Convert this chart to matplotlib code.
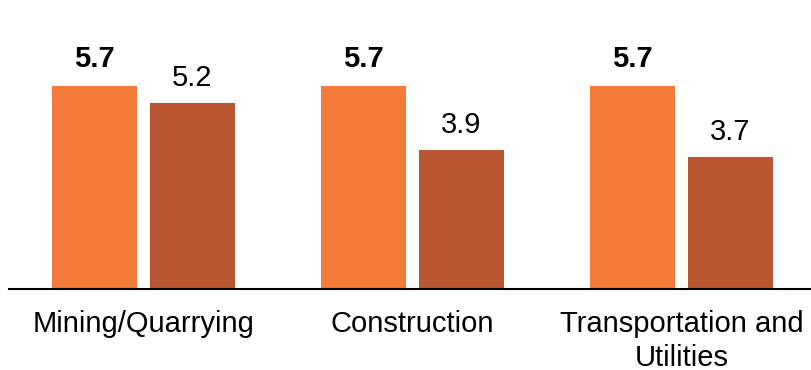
import matplotlib.pyplot as plt
import numpy as np

plt.rcParams['font.family'] = ['Liberation Sans', 'DejaVu Sans']

categories = ["Mining/Quarrying", "Construction", "Transportation and\nUtilities"]
series_a = [5.7, 5.7, 5.7]
series_b = [5.2, 3.9, 3.7]

color_a = '#F47B3A'
color_b = '#B85731'

fig = plt.figure(figsize=(8.11, 3.70), dpi=100)
ax = fig.add_axes([9 / 811, 81 / 370, 1 - 9 / 811, 289 / 370])

x = np.arange(len(categories))
width = 0.316
offset = 0.182

bars_a = ax.bar(x - offset, series_a, width, color=color_a)
bars_b = ax.bar(x + offset, series_b, width, color=color_b)

for bar, val in zip(bars_a, series_a):
    ax.annotate(f"{val:.1f}", (bar.get_x() + bar.get_width() / 2, val),
                xytext=(0, 9), textcoords='offset points',
                ha='center', va='bottom', fontsize=21, fontweight='bold')
for bar, val in zip(bars_b, series_b):
    ax.annotate(f"{val:.1f}", (bar.get_x() + bar.get_width() / 2, val),
                xytext=(0, 8), textcoords='offset points',
                ha='center', va='bottom', fontsize=21)

ax.set_xlim(-0.5, (811 - 9) / 269 - 0.5)
ax.set_ylim(0, 8.1)
ax.set_xticks(x)
ax.set_xticklabels(categories, fontsize=21, linespacing=1.28)
ax.tick_params(axis='x', length=0, pad=15)
ax.set_yticks([])

for side in ['top', 'right', 'left']:
    ax.spines[side].set_visible(False)
ax.spines['bottom'].set_linewidth(1.5)
ax.spines['bottom'].set_color('black')

fig.savefig('out.png', dpi=100)
